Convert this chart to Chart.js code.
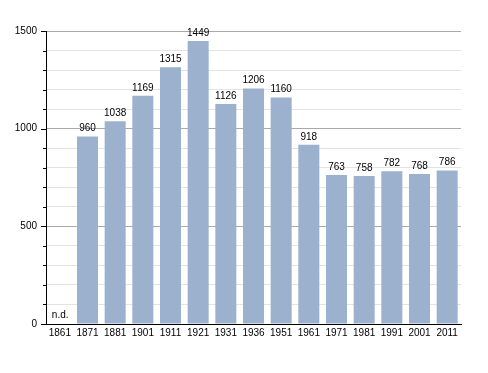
<!DOCTYPE html>
<html>
<head>
<meta charset="utf-8">
<script src="https://cdn.jsdelivr.net/npm/chart.js@4"></script>
<style>
  html, body { margin: 0; padding: 0; background: #fff; }
  canvas { display: block; }
</style>
</head>
<body>
<canvas id="pop-chart" width="488" height="373"></canvas>
<script>
// data
const years = ['1861', '1871', '1881', '1901', '1911', '1921', '1931', '1936', '1951', '1961', '1971', '1981', '1991', '2001', '2011'];
const population = [null, 960, 1038, 1169, 1315, 1449, 1126, 1206, 1160, 918, 763, 758, 782, 768, 786];
const yLabels = [0, 500, 1000, 1500];

Chart.defaults.font.family = '"Liberation Sans", Arial, sans-serif';
Chart.defaults.font.size = 10;
Chart.defaults.color = '#000';

// value labels above bars, "n.d." where no data
const barLabels = {
  id: 'barLabels',
  afterDatasetsDraw(chart) {
    const ctx = chart.ctx;
    const meta = chart.getDatasetMeta(0);
    const x = chart.scales.x;
    const y = chart.scales.y;
    ctx.save();
    ctx.fillStyle = '#000';
    ctx.font = '10px "Liberation Sans", Arial, sans-serif';
    ctx.textBaseline = 'alphabetic';
    meta.data.forEach((bar, i) => {
      const v = population[i];
      if (v == null) {
        ctx.textAlign = 'left';
        ctx.fillText('n.d.', x.getPixelForValue(i) - 8, y.getPixelForValue(0) - 6);
      } else {
        ctx.textAlign = 'center';
        ctx.fillText(v, bar.x, bar.y - 5);
      }
    });
    ctx.restore();
  }
};

// small tick marks on the left axis (longer on labelled values)
const axisTicks = {
  id: 'axisTicks',
  afterDraw(chart) {
    const ctx = chart.ctx;
    const y = chart.scales.y;
    const left = chart.chartArea.left;
    ctx.save();
    ctx.strokeStyle = '#000';
    ctx.lineWidth = 1;
    for (let v = y.min; v <= y.max; v += 100) {
      const py = Math.round(y.getPixelForValue(v)) + 0.5;
      const len = yLabels.includes(v) ? 5 : 3;
      ctx.beginPath();
      ctx.moveTo(left - len, py);
      ctx.lineTo(left, py);
      ctx.stroke();
    }
    ctx.restore();
  }
};

new Chart(document.getElementById('pop-chart'), {
  type: 'bar',
  data: {
    labels: years,
    datasets: [{
      label: 'Abitanti',
      data: population,
      backgroundColor: '#9bb1cd',
      borderWidth: 0,
      barPercentage: 0.76,
      categoryPercentage: 1
    }]
  },
  options: {
    responsive: false,
    animation: false,
    devicePixelRatio: 1,
    layout: {
      padding: { top: 31, right: 27, bottom: 0, left: 0 }
    },
    plugins: {
      legend: { display: false },
      tooltip: { enabled: false }
    },
    scales: {
      x: {
        offset: true,
        grid: { display: false, drawTicks: false },
        border: { color: '#000', width: 1 },
        ticks: {
          padding: 3,
          maxRotation: 0,
          minRotation: 0,
          autoSkip: false
        },
        afterFit: (s) => { s.height = 49; }
      },
      y: {
        min: 0,
        max: 1500,
        border: { color: '#000', width: 1 },
        grid: {
          drawTicks: false,
          color: (c) => (c.tick && c.tick.value % 500 === 0) ? '#a9a9a9' : '#e3e3e3'
        },
        ticks: {
          stepSize: 100,
          padding: 9,
          callback: (v) => yLabels.includes(v) ? v : ''
        },
        afterFit: (s) => { s.width = 46; }
      }
    }
  },
  plugins: [barLabels, axisTicks]
});
</script>
</body>
</html>
